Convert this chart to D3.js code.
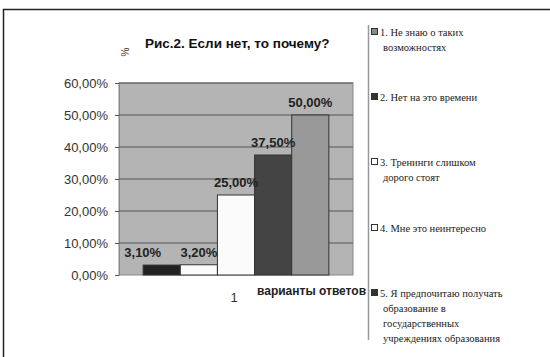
<!DOCTYPE html>
<html>
<head>
<meta charset="utf-8">
<script src="https://cdn.jsdelivr.net/npm/d3@7"></script>
<style>
  body { margin: 0; background: #fff; }
  svg { display: block; }
</style>
</head>
<body>
<svg id="chart"></svg>
<script>
// данные диаграммы
const categories = ["1"];
const seriesNames = [
  ["1. Не знаю о таких", "возможностях"],
  ["2. Нет на это времени"],
  ["3. Тренинги слишком", "дорого стоят"],
  ["4. Мне это неинтересно"],
  ["5. Я предпочитаю получать", "образование в", "государственных", "учреждениях образования"]
];
const seriesValues = [3.1, 3.2, 25, 37.5, 50];
const yTicks = [0, 10, 20, 30, 40, 50, 60];

// цвета
const barColors = ["#222", "#fbfbfb", "#fbfbfb", "#444", "#999"];
const legendColors = ["#888", "#333", "#fff", "#fff", "#333"];
const labelShift = [-19, 0, 0, 0, 0];

const width = 550;
const height = 357;
const plot = { left: 119, right: 353, top: 83, bottom: 275 };

const fmt = (v) => v.toFixed(2).replace(".", ",") + "%";

const svg = d3.select("#chart")
  .attr("width", width)
  .attr("height", height);

// рамка
svg.append("path")
  .attr("d", `M3.5,${height} L3.5,9.5 L${width},9.5`)
  .attr("fill", "none")
  .attr("stroke", "#222")
  .attr("stroke-width", 1.5);

const y = d3.scaleLinear()
  .domain([0, 60])
  .range([plot.bottom, plot.top]);

const x0 = d3.scaleBand()
  .domain(categories)
  .range([plot.left, plot.right])
  .paddingInner(0)
  .paddingOuter(0.13);

const x1 = d3.scaleBand()
  .domain(d3.range(seriesValues.length))
  .range([0, x0.bandwidth()]);

// фон области построения
svg.append("rect")
  .attr("x", plot.left)
  .attr("y", plot.top)
  .attr("width", plot.right - plot.left)
  .attr("height", plot.bottom - plot.top)
  .attr("fill", "#b4b4b4")
  .attr("stroke", "#888");

// ось Y
const yAxis = svg.append("g")
  .attr("transform", `translate(${plot.left},0)`)
  .call(d3.axisLeft(y).tickValues(yTicks).tickSize(4).tickPadding(7).tickFormat(fmt));
yAxis.select(".domain").attr("stroke", "#888");
yAxis.selectAll("line").attr("stroke", "#555");
yAxis.selectAll("text")
  .attr("fill", "#333")
  .style("font-family", "'Liberation Sans', Arial, sans-serif")
  .style("font-size", "13px");

// сетка
svg.append("g")
  .selectAll("line")
  .data(yTicks.slice(1))
  .enter()
  .append("line")
  .attr("x1", plot.left)
  .attr("x2", plot.right)
  .attr("y1", (d) => y(d))
  .attr("y2", (d) => y(d))
  .attr("stroke", "#555")
  .attr("stroke-width", 1);

// столбцы
const group = svg.append("g")
  .attr("transform", `translate(${x0(categories[0])},0)`);

group.selectAll(".bar")
  .data(seriesValues)
  .enter()
  .append("rect")
  .attr("class", "bar")
  .attr("x", (d, i) => x1(i))
  .attr("y", (d) => y(d))
  .attr("width", x1.bandwidth())
  .attr("height", (d) => y(0) - y(d))
  .attr("fill", (d, i) => barColors[i])
  .attr("stroke", "#333")
  .attr("stroke-width", 1);

// подписи значений
group.selectAll(".label")
  .data(seriesValues)
  .enter()
  .append("text")
  .attr("class", "label")
  .attr("x", (d, i) => x1(i) + x1.bandwidth() / 2 + labelShift[i])
  .attr("y", (d) => y(d) - 8)
  .attr("text-anchor", "middle")
  .attr("fill", "#222")
  .style("font-family", "'Liberation Sans', Arial, sans-serif")
  .style("font-size", "13px")
  .style("font-weight", "bold")
  .text((d) => fmt(d));

// ось X
svg.append("g")
  .selectAll("text")
  .data(categories)
  .enter()
  .append("text")
  .attr("x", (d) => x0(d) + x0.bandwidth() / 2 - 2)
  .attr("y", 302)
  .attr("text-anchor", "middle")
  .attr("fill", "#333")
  .style("font-family", "'Liberation Sans', Arial, sans-serif")
  .style("font-size", "13px")
  .text((d) => d);

svg.append("text")
  .attr("x", 257)
  .attr("y", 295)
  .attr("fill", "#222")
  .style("font-family", "'Liberation Sans', Arial, sans-serif")
  .style("font-size", "12px")
  .style("font-weight", "bold")
  .text("варианты ответов");

// заголовок
svg.append("text")
  .attr("x", 145)
  .attr("y", 48)
  .attr("fill", "#111")
  .style("font-family", "'Liberation Sans', Arial, sans-serif")
  .style("font-size", "13.5px")
  .style("font-weight", "bold")
  .text("Рис.2. Если нет, то почему?");

svg.append("text")
  .attr("transform", "translate(129,52) rotate(-90)")
  .attr("text-anchor", "middle")
  .attr("fill", "#333")
  .style("font-family", "'Liberation Sans', Arial, sans-serif")
  .style("font-size", "10px")
  .text("%");

// легенда
svg.append("line")
  .attr("x1", 368.5)
  .attr("x2", 368.5)
  .attr("y1", 25)
  .attr("y2", 340)
  .attr("stroke", "#999")
  .attr("stroke-width", 1.5);

const legendY = [32, 97, 162, 228, 293];
const legend = svg.append("g")
  .selectAll("g")
  .data(seriesNames)
  .enter()
  .append("g")
  .attr("transform", (d, i) => `translate(371,${legendY[i]})`);

legend.append("rect")
  .attr("x", 0.5)
  .attr("y", -3.5)
  .attr("width", 6)
  .attr("height", 6)
  .attr("fill", (d, i) => legendColors[i])
  .attr("stroke", "#333");

legend.each(function (lines) {
  const text = d3.select(this)
    .append("text")
    .attr("fill", "#222")
    .attr("font-family", "Liberation Serif, DejaVu Serif, Times New Roman, serif")
    .attr("font-size", "10.5px");
  lines.forEach((line, j) => {
    text.append("tspan")
      .attr("x", j === 0 ? 9 : 12)
      .attr("y", j * 15 + 3.5)
      .text(line);
  });
});
</script>
</body>
</html>
